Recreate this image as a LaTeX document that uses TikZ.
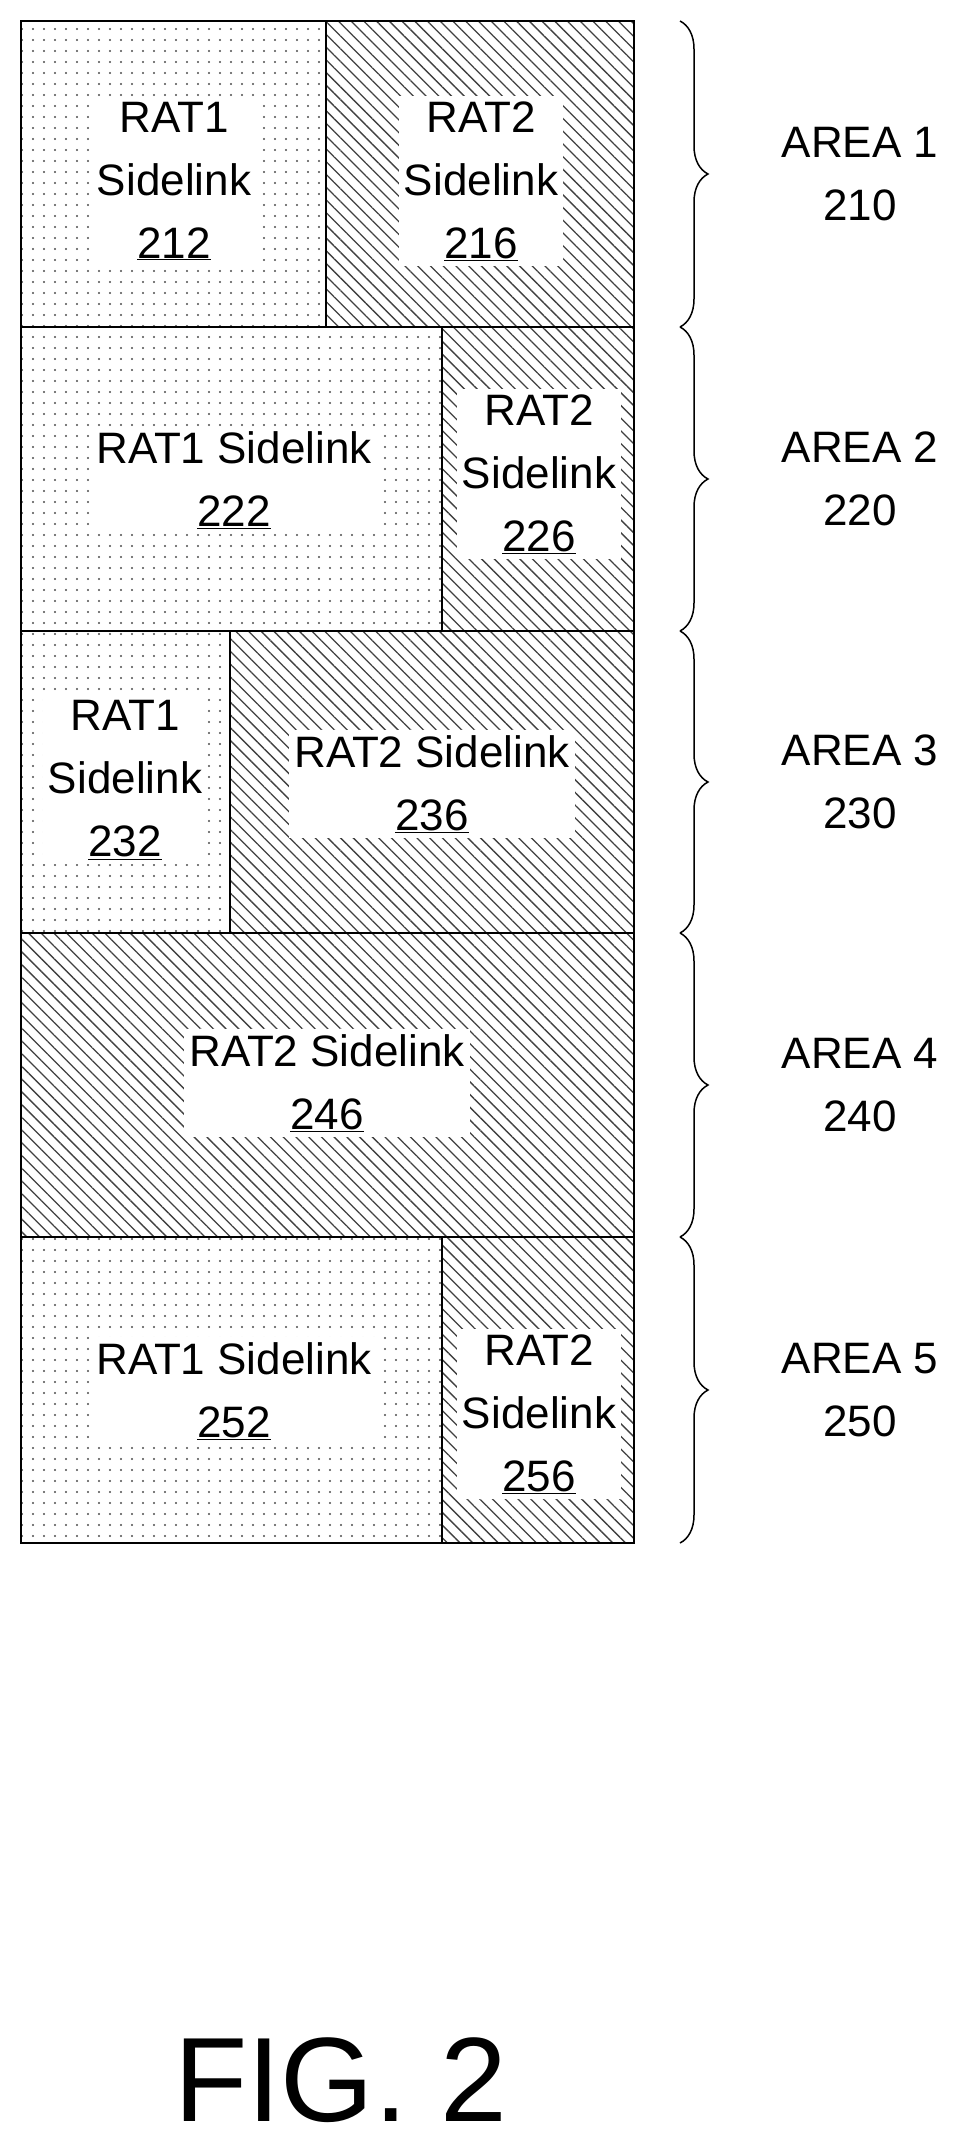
\documentclass[tikz,border=0pt]{standalone}
\usepackage{fontspec}
\setmainfont{Liberation Sans}
\usepackage{tikz}
\usetikzlibrary{patterns.meta,decorations.pathreplacing}

\tikzset{
	rat1/.style={draw=black, line width=1.5pt, pattern={Dots[distance=11pt, radius=1.1pt]}, pattern color=black!70},
	rat2/.style={draw=black, line width=1.5pt, pattern={Lines[angle=-45, distance=9pt, line width=1.3pt]}, pattern color=black!75},
	lbl/.style={fill=white, align=center, inner sep=5pt, font=\fontsize{44}{63}\selectfont},
	area/.style={align=center, font=\fontsize{44}{63}\selectfont},
	areabrace/.style={decorate, decoration={brace, amplitude=28pt}, line width=1.5pt}
}

\begin{document}
\begin{tikzpicture}[x=1pt, y=-1pt]
	\useasboundingbox (0,0) rectangle (961,2152);

	% Area 1
	\draw[rat1] (21,21) rectangle (326,327);
	\draw[rat2] (326,21) rectangle (634,327);
	\node[lbl] (s212) at (174,181) {RAT1\\Sidelink\\\underline{212}};
	\node[lbl] (s216) at (481,181) {RAT2\\Sidelink\\\underline{216}};

	% Area 2
	\draw[rat1] (21,327) rectangle (442,631);
	\draw[rat2] (442,327) rectangle (634,631);
	\node[lbl] (s222) at (234,480) {RAT1 Sidelink\\\underline{222}};
	\node[lbl] (s226) at (539,474) {RAT2\\Sidelink\\\underline{226}};

	% Area 3
	\draw[rat1] (21,631) rectangle (230,933);
	\draw[rat2] (230,631) rectangle (634,933);
	\node[lbl] (s232) at (125,780) {RAT1\\Sidelink\\\underline{232}};
	\node[lbl] (s236) at (432,784) {RAT2 Sidelink\\\underline{236}};

	% Area 4
	\draw[rat2] (21,933) rectangle (634,1237);
	\node[lbl] (s246) at (327,1083) {RAT2 Sidelink\\\underline{246}};

	% Area 5
	\draw[rat1] (21,1237) rectangle (442,1543);
	\draw[rat2] (442,1237) rectangle (634,1543);
	\node[lbl] (s252) at (234,1391) {RAT1 Sidelink\\\underline{252}};
	\node[lbl] (s256) at (539,1414) {RAT2\\Sidelink\\\underline{256}};

	% Braces and area labels
	\foreach \t/\b/\n [count=\i] in {21/327/210, 327/631/220, 631/933/230, 933/1237/240, 1237/1543/250} {
		\coordinate (top\i) at (680,\t);
		\coordinate (bot\i) at (680,\b);
		\draw[areabrace] (top\i) -- (bot\i);
		\node[area] (area\i) at (860,{(\t+\b)/2}) {AREA \i\\\n};
	}

	\node[font=\fontsize{120}{120}\selectfont] (fig) at (341,2080) {FIG. 2};
\end{tikzpicture}
\end{document}
